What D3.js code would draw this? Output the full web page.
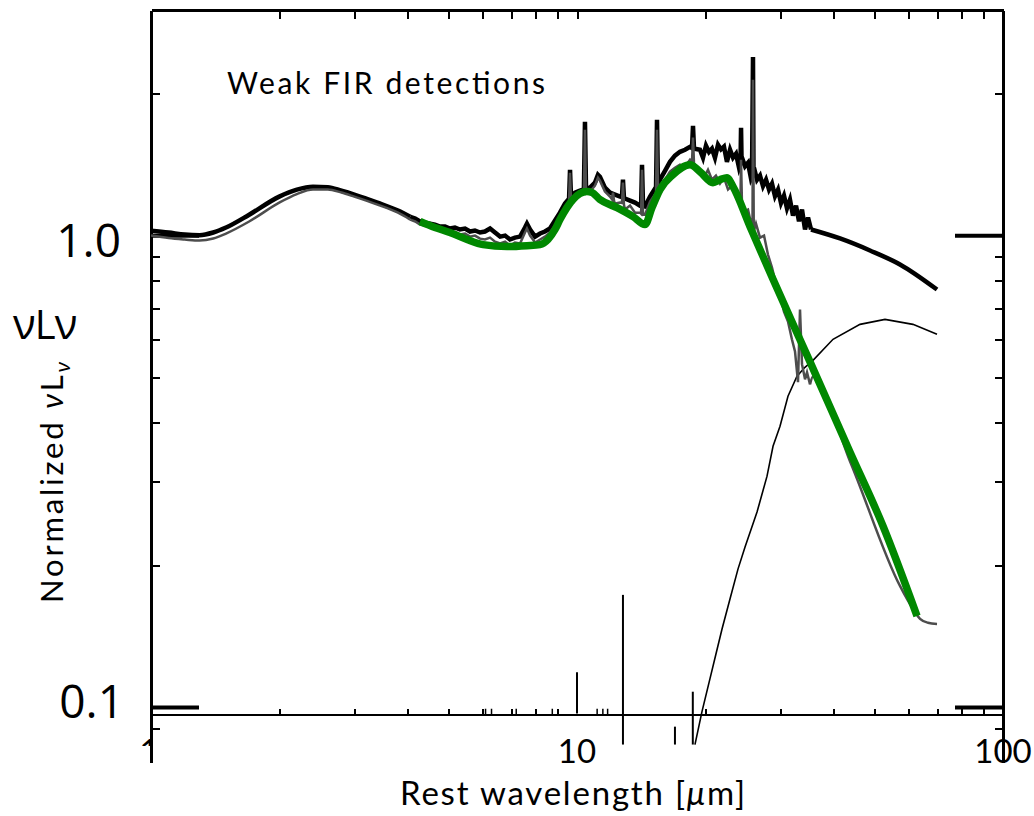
<!DOCTYPE html>
<html>
<head>
<meta charset="utf-8">
<script src="https://cdn.jsdelivr.net/npm/d3@7"></script>
<style>
  body { margin: 0; background: #fff; }
  svg text { font-family: Lato, "DejaVu Sans", sans-serif; fill: #000; }
</style>
</head>
<body>
<svg id="chart" width="1034" height="816"></svg>
<script>
// Mean SED of the weak-FIR sample: [rest wavelength (micron), normalized nuLnu]
const meanSED = [
  [1.0,1.022],[1.1,1.013],[1.2,1.003],[1.3,1.0],[1.4,1.013],[1.5,1.038],[1.7,1.105],[2.0,1.207],
  [2.2,1.249],[2.4,1.267],[2.6,1.264],[2.8,1.242],[3.0,1.219],[3.4,1.172],[3.8,1.127],
  [4.06,1.094],[4.17,1.084],[4.28,1.069],[4.40,1.063],[4.52,1.058],[4.64,1.053],[4.77,1.043],
  [4.90,1.043],[5.03,1.033],[5.17,1.038],[5.31,1.028],[5.46,1.033],[5.61,1.018],[5.76,1.023],
  [5.92,1.013],[6.08,1.018],[6.25,1.033],[6.42,1.013],[6.60,0.993],[6.78,0.998],[6.96,0.979],
  [7.15,0.988],[7.35,0.993],[7.55,1.038],[7.63,1.058],[7.76,1.028],[7.97,0.993],[8.19,1.008],
  [8.41,1.018],[8.64,1.033],[8.88,1.074],[9.12,1.116],[9.37,1.167],
  [9.58,1.195],[9.63,1.376],[9.68,1.21],
  [9.89,1.231],[10.16,1.243],
  [10.38,1.25],[10.44,1.739],[10.50,1.255],
  [10.73,1.261],[11.02,1.292],[11.2,1.343],[11.32,1.330],[11.63,1.261],[11.95,1.231],
  [12.28,1.219],[12.62,1.207],
  [12.75,1.205],[12.82,1.311],[12.89,1.2],
  [12.96,1.196],[13.32,1.184],[13.68,1.172],[14.06,1.155],
  [14.14,1.155],[14.21,1.41],[14.29,1.152],
  [14.44,1.150],[14.84,1.207],[15.24,1.255],
  [15.33,1.265],[15.41,1.756],[15.49,1.285],
  [15.66,1.311],[16.09,1.369],[16.53,1.430],[16.98,1.474],[17.45,1.502],[17.93,1.517],[18.42,1.539],
  [18.62,1.53],[18.72,1.705],[18.82,1.527],
  [18.92,1.524],[19.44,1.517],[19.76,1.459],[20.08,1.547],[20.41,1.50],[20.74,1.525],
  [21.08,1.459],[21.43,1.555],[21.78,1.52],[22.13,1.540],[22.49,1.43],[22.87,1.517],
  [23.24,1.46],[23.62,1.488],[24.01,1.390],
  [24.2,1.42],[24.27,1.689],[24.34,1.44],
  [24.40,1.459],[24.80,1.40],[25.20,1.424],[25.62,1.317],
  [25.75,1.33],[25.89,2.386],[25.96,1.36],
  [26.03,1.390],[26.46,1.31],[26.89,1.337],[27.33,1.27],[27.78,1.311],[28.23,1.25],
  [28.69,1.286],[29.16,1.21],[29.64,1.249],[30.12,1.17],[30.61,1.213],[31.11,1.14],
  [31.62,1.189],[32.14,1.10],[32.67,1.155],[33.20,1.07],[33.74,1.133],[34.30,1.028],
  [34.86,1.090],[35.43,1.028],
  [41.44,0.984],[48.73,0.928],[57.3,0.867],[70.0,0.767]
];

// AGN-dominated template spectrum
const agnSED = [
  [1.0,0.998],[1.1,0.986],[1.2,0.979],[1.3,0.974],[1.4,0.984],[1.5,1.008],[1.7,1.069],[2.0,1.172],
  [2.2,1.222],[2.4,1.249],[2.6,1.249],[2.8,1.231],[3.0,1.207],[3.4,1.161],[3.8,1.116],
  [4.06,1.079],[4.17,1.069],[4.28,1.053],[4.40,1.048],[4.52,1.043],[4.64,1.033],[4.77,1.028],
  [4.90,1.023],[5.03,1.013],[5.17,1.018],[5.31,1.003],[5.46,1.008],[5.61,0.993],[5.76,0.998],
  [5.92,0.983],[6.08,0.979],[6.25,0.988],[6.42,0.969],[6.60,0.960],[6.78,0.969],[6.96,0.950],
  [7.15,0.965],[7.35,0.960],[7.55,1.013],[7.63,1.033],[7.76,0.998],[7.97,0.965],[8.19,0.979],
  [8.41,0.993],[8.64,1.013],[8.88,1.048],[9.12,1.089],[9.37,1.144],
  [9.58,1.18],[9.63,1.356],[9.68,1.19],
  [9.89,1.201],[10.16,1.219],
  [10.38,1.225],[10.44,1.672],[10.50,1.225],
  [10.73,1.237],[11.02,1.273],[11.2,1.324],[11.32,1.305],[11.63,1.237],[11.95,1.207],
  [12.09,1.19],[12.15,1.231],[12.22,1.18],
  [12.28,1.167],[12.62,1.172],
  [12.75,1.17],[12.82,1.292],[12.89,1.16],
  [12.96,1.133],[13.32,1.155],[13.68,1.116],[14.06,1.116],
  [14.14,1.11],[14.21,1.376],[14.29,1.105],
  [14.44,1.105],[14.84,1.178],[15.24,1.219],
  [15.33,1.23],[15.41,1.672],[15.49,1.25],
  [15.66,1.267],[16.09,1.311],[16.53,1.363],[16.98,1.390],[17.45,1.410],[17.93,1.396],[18.42,1.445],
  [18.62,1.43],[18.72,1.610],[18.82,1.42],
  [18.92,1.410],[19.44,1.363],[19.87,1.324],[20.30,1.376],[20.74,1.311],[21.19,1.337],
  [21.66,1.286],[22.13,1.324],[22.62,1.249],[23.12,1.273],[23.62,1.201],[24.13,1.219],
  [24.2,1.2],[24.27,1.445],[24.4,1.15],
  [24.67,1.122],[25.20,1.133],[25.75,1.038],
  [25.82,1.04],[25.89,2.134],[26.0,1.02],
  [26.31,1.058],[26.89,0.988],[27.48,0.998],[28.07,0.910],[28.69,0.854],[29.32,0.787],
  [29.96,0.749],[30.61,0.689],[31.28,0.656],[31.96,0.601],[32.49,0.567],[33.02,0.488],
  [33.38,0.696],[33.74,0.533],[34.30,0.495],[34.67,0.512],[35.24,0.483],
  [35.81,0.502],[43.73,0.332],[57.3,0.1806],[61.46,0.1615],[63.87,0.1538],[66.67,0.1509],[70.0,0.150]
];

// Smooth fit to the mid-IR spectrum
const fitSED = [
  [4.28,1.069],[4.64,1.038],[5.03,1.013],[5.52,0.979],[6.02,0.955],[6.85,0.946],[7.63,0.950],
  [8.19,0.955],[8.55,0.979],[8.88,1.028],[9.12,1.079],[9.47,1.144],[9.79,1.190],[10.16,1.225],
  [10.55,1.237],[10.85,1.231],[11.32,1.190],[12.41,1.144],[13.54,1.095],[14.44,1.053],[15.0,1.144],
  [15.66,1.249],[16.80,1.343],[18.42,1.410],[19.44,1.363],[20.85,1.292],[21.66,1.311],[22.49,1.324],
  [23.24,1.267],[25.47,1.043],[28.85,0.806],[35.24,0.539],[43.73,0.347],[52.27,0.242],[62.83,0.156]
];

// Residual (mean minus AGN) far-IR component
const residualSED = [
  [18.92,0.0833],[19.65,0.0978],[20.52,0.1149],[21.2,0.1297],[21.9,0.1464],[22.87,0.1696],
  [23.88,0.1963],[24.8,0.2184],[26.46,0.259],[27.93,0.3086],[28.85,0.357],[29.96,0.3937],
  [31.28,0.4557],[32.84,0.5023],[34.29,0.5248],[35.81,0.543],[39.9,0.6016],[46.17,0.6471],
  [52.84,0.6631],[61.46,0.6471],[69.99,0.6164]
];

// Emission lines of the residual spectrum
const lineWave = [10.0, 12.82, 16.98, 18.7];
const lineTop  = [0.1186, 0.1729, 0.0909, 0.1078];
const lineBase = [0.0969, 0.0833, 0.0833, 0.0833];

// Residual features just reaching the lower axis
const blipWave = [6.1, 6.3, 7.2, 8.75, 11.15, 11.5, 11.8];
const blipTop = 0.0992;

// Spectrograph coverage (sampled spectrum between these wavelengths)
const irsRange = [4.06, 35.5];

// Axes
const xDomain = [1, 100];
const yDomain = [0.0765, 3.0];
const xAxisLevel = 0.0965;
const xMinorTicks = [2,3,4,5,6,7,8,9,20,30,40,50,60,70,80,90];
const xTopTicks = [2,3,4,5,6,7,8,9,10,20,30,40,50,60,70,80,90];
const xTickLabels = [10, 100];
const yMinorTicks = [0.09,0.2,0.3,0.4,0.5,0.6,0.7,0.8,0.9,2];
const yMajorTicks = [0.1, 1.0];

const svg = d3.select("#chart");
svg.append("rect").attr("width", 1034).attr("height", 816).attr("fill", "#fff");

const x = d3.scaleLog().domain(xDomain).range([151, 1003]);
const y = d3.scaleLog().domain(yDomain).range([762, 10]);
const baseY = y(xAxisLevel);

function styleAxis(g, domainW, tickW) {
  g.select(".domain").attr("stroke", "#000").attr("stroke-width", domainW);
  g.selectAll(".tick line").attr("stroke", "#000").attr("stroke-width", tickW);
  g.selectAll(".tick text").remove();
  g.attr("shape-rendering", "crispEdges");
}

// frame + minor ticks
svg.append("g").attr("transform", "translate(151,0)")
  .call(d3.axisLeft(y).tickValues(yMinorTicks).tickSize(-9).tickSizeOuter(0).tickFormat(""))
  .call(g => styleAxis(g, 3, 2));
svg.append("g").attr("transform", "translate(1003,0)")
  .call(d3.axisRight(y).tickValues(yMinorTicks).tickSize(-8).tickSizeOuter(0).tickFormat(""))
  .call(g => styleAxis(g, 3, 2));
svg.append("g").attr("transform", "translate(0,10)")
  .call(d3.axisBottom(x).tickValues(xTopTicks).tickSize(9).tickSizeOuter(0).tickFormat(""))
  .call(g => styleAxis(g, 3, 2));
svg.append("g").attr("transform", `translate(0,${baseY})`)
  .call(d3.axisTop(x).tickValues(xMinorTicks).tickSize(5).tickSizeOuter(0).tickFormat(""))
  .call(g => styleAxis(g, 2.5, 2));

// heavy major-tick dashes at 0.1 and 1.0
const majL = svg.append("g").attr("transform", "translate(151,0)")
  .call(d3.axisLeft(y).tickValues(yMajorTicks).tickSize(-48).tickSizeOuter(0).tickFormat(""));
majL.select(".domain").remove();
majL.selectAll(".tick line").attr("stroke", "#000").attr("stroke-width", 4);
const majR = svg.append("g").attr("transform", "translate(1003,0)")
  .call(d3.axisRight(y).tickValues(yMajorTicks).tickSize(-48).tickSizeOuter(0).tickFormat(""));
majR.select(".domain").remove();
majR.selectAll(".tick line").attr("stroke", "#000").attr("stroke-width", 4);

// data
svg.append("clipPath").attr("id", "plotClip")
  .append("rect").attr("x", 151).attr("y", 10).attr("width", 852).attr("height", 737);
const plot = svg.append("g").attr("clip-path", "url(#plotClip)");

const smooth = d3.line().x(d => x(d[0])).y(d => y(d[1])).curve(d3.curveMonotoneX);
const straight = d3.line().x(d => x(d[0])).y(d => y(d[1]));

// photometric model parts drawn smooth, the sampled spectrum drawn point to point
function drawSED(data, color, width) {
  const pre = data.filter(d => d[0] <= irsRange[0]);
  const mid = data.filter(d => d[0] >= irsRange[0] && d[0] <= irsRange[1]);
  const post = data.filter(d => d[0] >= mid[mid.length - 1][0]);
  [[pre, smooth], [mid, straight], [post, smooth]].forEach(([seg, gen]) => {
    plot.append("path").datum(seg).attr("d", gen)
      .attr("fill", "none").attr("stroke", color).attr("stroke-width", width)
      .attr("stroke-linejoin", "miter");
  });
}

drawSED(meanSED, "#000", 4.5);
plot.append("path").datum(residualSED).attr("d", straight)
  .attr("fill", "none").attr("stroke", "#000").attr("stroke-width", 1.6);
plot.selectAll(".eline").data(lineWave).enter().append("line")
  .attr("x1", d => x(d)).attr("x2", d => x(d))
  .attr("y1", (d, i) => y(lineBase[i])).attr("y2", (d, i) => y(lineTop[i]))
  .attr("stroke", "#000").attr("stroke-width", 2);
plot.selectAll(".blip").data(blipWave).enter().append("line")
  .attr("x1", d => x(d)).attr("x2", d => x(d))
  .attr("y1", baseY).attr("y2", y(blipTop))
  .attr("stroke", "#000").attr("stroke-width", 1.5);
drawSED(agnSED, "#4d4d4d", 2.5);
plot.append("path").datum(fitSED).attr("d", smooth)
  .attr("fill", "none").attr("stroke", "#008800").attr("stroke-width", 7.5)
  .attr("stroke-linejoin", "round");

// text
svg.append("text").attr("x", 227).attr("y", 94).attr("font-size", 30)
  .attr("textLength", 318).attr("lengthAdjust", "spacing").text("Weak FIR detections");

svg.selectAll(".xlab").data(xTickLabels).enter().append("text")
  .attr("x", d => x(d)).attr("y", 763).attr("font-size", 33)
  .attr("text-anchor", "middle").text(d => d3.format("d")(d));

svg.append("clipPath").attr("id", "oneClip")
  .append("rect").attr("x", 120).attr("y", 700).attr("width", 60).attr("height", 46);
svg.append("text").attr("clip-path", "url(#oneClip)").attr("x", x(1) - 2).attr("y", 763)
  .attr("font-size", 33).attr("text-anchor", "middle").text("1");

const xt = svg.append("text").attr("x", 400).attr("y", 805).attr("font-size", 33)
  .attr("textLength", 345).attr("lengthAdjust", "spacing");
xt.append("tspan").text("Rest wavelength [");
xt.append("tspan").attr("font-style", "italic").text("μ");
xt.append("tspan").text("m]");

const yt = svg.append("text").attr("transform", "translate(63,603) rotate(-90)")
  .attr("font-size", 31).attr("textLength", 241).attr("lengthAdjust", "spacing");
yt.append("tspan").text("Normalized ");
yt.append("tspan").attr("font-style", "italic").text("ν");
yt.append("tspan").text("L");
yt.append("tspan").attr("font-style", "italic").attr("font-size", 22).attr("dy", 7).text("ν");

// large value annotations
const big = svg.append("text").attr("x", 13).attr("y", 339)
  .attr("letter-spacing", -1)
  .style("font-family", "'Open Sans', 'Noto Sans', sans-serif");
big.append("tspan").attr("font-size", 42).text("ν");
big.append("tspan").attr("font-size", 40).text("L");
big.append("tspan").attr("font-size", 42).text("ν");

svg.selectAll(".ylab").data(yMajorTicks).enter().append("text")
  .style("font-family", "'Open Sans', 'Noto Sans', sans-serif")
  .attr("font-size", 46).attr("text-anchor", "end")
  .attr("x", d => d === 1 ? 121 : 124)
  .attr("y", d => d === 1 ? y(d) + 22 : y(d) + 11)
  .text(d => d3.format(".1f")(d));
</script>
</body>
</html>
